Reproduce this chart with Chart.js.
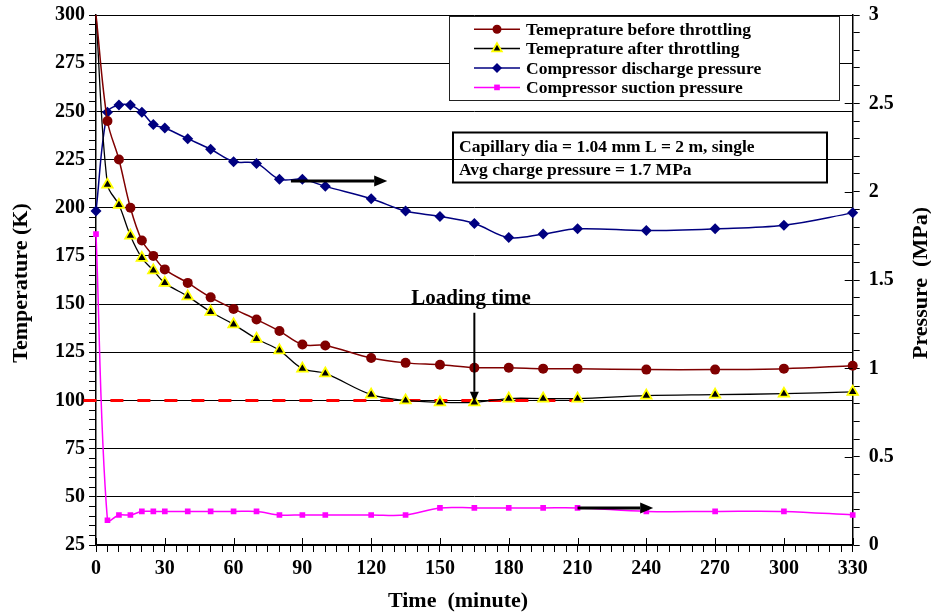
<!DOCTYPE html>
<html>
<head>
<meta charset="utf-8">
<script src="https://cdn.jsdelivr.net/npm/chart.js@4.4.1/dist/chart.umd.min.js"></script>
<style>
  html, body { margin: 0; padding: 0; background: #fff; }
</style>
</head>
<body>
<canvas id="myChart" width="931" height="612"></canvas>
<script>
// time in minutes, same for all series
var A_time = [0, 5, 10, 15, 20, 25, 30, 40, 50, 60, 70, 80, 90, 100, 120, 135, 150, 165, 180, 195, 210, 240, 270, 300, 330];
// temperatures (K), left axis
var A_tempBefore = [300, 245, 225, 200, 183, 175, 168, 161, 153.5, 147.5, 142, 136, 129, 128.5, 122, 119.5, 118.5, 117, 117, 116.5, 116.5, 116, 116, 116.5, 118];
var A_tempAfter = [300, 212, 201.5, 185.5, 174, 167.5, 161, 154, 146, 139.5, 132, 126, 116.5, 114, 103, 100, 99, 99, 101, 101, 101, 102.5, 103, 103.5, 104.5];
// pressures (MPa), right axis
var A_discharge = [1.89, 2.45, 2.49, 2.49, 2.45, 2.38, 2.36, 2.30, 2.24, 2.17, 2.16, 2.07, 2.07, 2.03, 1.96, 1.89, 1.86, 1.82, 1.74, 1.76, 1.79, 1.78, 1.79, 1.81, 1.88];
var A_suction = [1.76, 0.14, 0.17, 0.17, 0.19, 0.19, 0.19, 0.19, 0.19, 0.19, 0.19, 0.17, 0.17, 0.17, 0.17, 0.17, 0.21, 0.21, 0.21, 0.21, 0.21, 0.19, 0.19, 0.19, 0.17];

var S_series = ['Temeprature before throttling', 'Temeprature after throttling', 'Compressor discharge pressure', 'Compressor suction pressure'];
var S_note = ['Capillary dia = 1.04 mm L = 2 m, single', 'Avg charge pressure = 1.7 MPa'];
var S_loading = 'Loading time';
var S_xTitle = 'Time  (minute)';
var S_yTitle = 'Temperature (K)';
var S_y1Title = 'Pressure  (MPa)';

// dashed 100 K line [from min, to min, K]
var A_line100 = [-5.5, 211, 100];
// arrows [from min, to min, MPa] pointing to the pressure axis
var A_arrowDis = [85, 127, 2.06];
var A_arrowSuc = [210, 243, 0.21];
// loading time arrow [min, from K, to K]
var A_arrowLoad = [165, 145.5, 99.3];

var FONT = "'Liberation Serif', 'Times New Roman', serif";

function pts(arr) {
    return A_time.map(function (t, i) { return { x: t, y: arr[i] }; });
}

function drawMarker(ctx, style, x, y, r, fill, stroke, bw) {
    ctx.save();
    ctx.beginPath();
    if (style === 'circle') {
        ctx.arc(x, y, r, 0, Math.PI * 2);
    } else if (style === 'triangle') {
        ctx.moveTo(x, y - r);
        ctx.lineTo(x + r * 0.866, y + r * 0.5);
        ctx.lineTo(x - r * 0.866, y + r * 0.5);
    } else if (style === 'rectRot') {
        ctx.moveTo(x - r, y); ctx.lineTo(x, y - r); ctx.lineTo(x + r, y); ctx.lineTo(x, y + r);
    } else {
        var s = r * Math.SQRT1_2;
        ctx.rect(x - s, y - s, 2 * s, 2 * s);
    }
    ctx.closePath();
    ctx.fillStyle = fill;
    ctx.fill();
    if (bw) {
        ctx.lineWidth = bw;
        ctx.strokeStyle = stroke;
        ctx.stroke();
    }
    ctx.restore();
}

function arrow(ctx, x1, y1, x2, y2, w, head, half) {
    var ang = Math.atan2(y2 - y1, x2 - x1);
    var bx = x2 - Math.cos(ang) * head, by = y2 - Math.sin(ang) * head;
    ctx.save();
    ctx.strokeStyle = '#000';
    ctx.fillStyle = '#000';
    ctx.lineWidth = w;
    ctx.beginPath();
    ctx.moveTo(x1, y1);
    ctx.lineTo(bx, by);
    ctx.stroke();
    ctx.beginPath();
    ctx.moveTo(x2, y2);
    ctx.lineTo(bx - Math.sin(ang) * half, by + Math.cos(ang) * half);
    ctx.lineTo(bx + Math.sin(ang) * half, by - Math.cos(ang) * half);
    ctx.closePath();
    ctx.fill();
    ctx.restore();
}

var extras = {
    id: 'extras',
    beforeDatasetsDraw: function (chart) {
        var ctx = chart.ctx, x = chart.scales.x, y = chart.scales.y;
        ctx.save();
        ctx.strokeStyle = '#ff0000';
        ctx.lineWidth = 3;
        ctx.setLineDash([13, 14]);
        ctx.beginPath();
        ctx.moveTo(x.getPixelForValue(A_line100[0]), y.getPixelForValue(A_line100[2]));
        ctx.lineTo(x.getPixelForValue(A_line100[1]), y.getPixelForValue(A_line100[2]));
        ctx.stroke();
        ctx.restore();
    },
    afterDatasetsDraw: function (chart) {
        var ctx = chart.ctx, x = chart.scales.x, y = chart.scales.y, y1 = chart.scales.y1;
        var area = chart.chartArea;

        // major ticks going inside the plot
        ctx.save();
        ctx.strokeStyle = '#000';
        ctx.lineWidth = 1;
        ctx.beginPath();
        for (var t = 0; t <= 330; t += 30) {
            var px = Math.round(x.getPixelForValue(t)) + 0.5;
            ctx.moveTo(px, area.bottom);
            ctx.lineTo(px, area.bottom - 7);
        }
        for (var p = 0; p <= 3; p += 0.5) {
            var py = Math.round(y1.getPixelForValue(p)) + 0.5;
            ctx.moveTo(area.right, py);
            ctx.lineTo(area.right - 8, py);
        }
        ctx.stroke();
        ctx.restore();

        // arrows
        arrow(ctx, x.getPixelForValue(A_arrowDis[0]), y1.getPixelForValue(A_arrowDis[2]),
            x.getPixelForValue(A_arrowDis[1]), y1.getPixelForValue(A_arrowDis[2]), 3, 13, 5.5);
        arrow(ctx, x.getPixelForValue(A_arrowSuc[0]), y1.getPixelForValue(A_arrowSuc[2]),
            x.getPixelForValue(A_arrowSuc[1]), y1.getPixelForValue(A_arrowSuc[2]), 3, 13, 5.5);
        arrow(ctx, x.getPixelForValue(A_arrowLoad[0]), y.getPixelForValue(A_arrowLoad[1]),
            x.getPixelForValue(A_arrowLoad[0]), y.getPixelForValue(A_arrowLoad[2]), 2, 10, 4.5);

        ctx.save();
        ctx.fillStyle = '#000';
        ctx.font = 'bold 21px ' + FONT;
        ctx.textAlign = 'center';
        ctx.textBaseline = 'alphabetic';
        ctx.fillText(S_loading, 471, 304);

        // legend box
        ctx.fillStyle = '#fff';
        ctx.fillRect(449.5, 16.5, 390, 84);
        ctx.strokeStyle = '#222';
        ctx.lineWidth = 1;
        ctx.strokeRect(449.5, 16.5, 390, 84);
        ctx.font = 'bold 17.5px ' + FONT;
        ctx.textAlign = 'left';
        chart.data.datasets.forEach(function (ds, i) {
            var base = 35 + i * 19.4;
            var cy = base - 5.8;
            ctx.strokeStyle = ds.borderColor;
            ctx.lineWidth = 1.5;
            ctx.beginPath();
            ctx.moveTo(474, cy);
            ctx.lineTo(520, cy);
            ctx.stroke();
            drawMarker(ctx, ds.pointStyle, 497, cy, ds.legendRadius, ds.pointBackgroundColor, ds.pointBorderColor, ds.pointBorderWidth);
            ctx.fillStyle = '#000';
            ctx.fillText(ds.label, 526, base);
        });

        // note box
        ctx.strokeStyle = '#000';
        ctx.lineWidth = 2;
        ctx.strokeRect(453, 132.5, 374, 50);
        ctx.fillStyle = '#000';
        ctx.fillText(S_note[0], 459, 152);
        ctx.fillText(S_note[1], 459, 175);

        // axis titles
        ctx.font = 'bold 22px ' + FONT;
        ctx.textAlign = 'center';
        ctx.fillText(S_xTitle, 458, 607);
        ctx.translate(27, 283);
        ctx.rotate(-Math.PI / 2);
        ctx.fillText(S_yTitle, 0, 0);
        ctx.setTransform(1, 0, 0, 1, 0, 0);
        ctx.translate(927, 283);
        ctx.rotate(-Math.PI / 2);
        ctx.fillText(S_y1Title, 0, 0);
        ctx.restore();
    }
};

var tickFont = { family: FONT, size: 20, weight: 'bold' };

// the plot area is fixed: 96..852.7 x 15..545
function fitV(w) {
    return function (s) { s.width = w; s.paddingTop = 0; s.paddingBottom = 0; };
}

const ctx = document.getElementById('myChart').getContext('2d');
const myChart = new Chart(ctx, {
    type: 'line',
    data: {
        datasets: [{
            label: S_series[0],
            data: pts(A_tempBefore),
            yAxisID: 'y',
            borderColor: '#800000',
            borderWidth: 1.5,
            pointStyle: 'circle',
            pointRadius: function (c) { return c.dataIndex === 0 ? 0 : 5; },
            legendRadius: 4.5,
            pointBackgroundColor: '#800000',
            pointBorderColor: '#800000',
            pointBorderWidth: 0
        }, {
            label: S_series[1],
            data: pts(A_tempAfter),
            yAxisID: 'y',
            borderColor: '#000000',
            borderWidth: 1.3,
            pointStyle: 'triangle',
            pointRadius: function (c) { return c.dataIndex === 0 ? 0 : 6; },
            legendRadius: 5.5,
            pointBackgroundColor: '#000000',
            pointBorderColor: '#ffff00',
            pointBorderWidth: 1.8
        }, {
            label: S_series[2],
            data: pts(A_discharge),
            yAxisID: 'y1',
            borderColor: '#000080',
            borderWidth: 1.5,
            pointStyle: 'rectRot',
            pointRadius: 5.5,
            legendRadius: 5,
            pointBackgroundColor: '#000080',
            pointBorderColor: '#000080',
            pointBorderWidth: 0
        }, {
            label: S_series[3],
            data: pts(A_suction),
            yAxisID: 'y1',
            borderColor: '#ff00ff',
            borderWidth: 1.5,
            pointStyle: 'rect',
            pointRadius: 4,
            legendRadius: 4,
            pointBackgroundColor: '#ff00ff',
            pointBorderColor: '#ff00ff',
            pointBorderWidth: 0
        }]
    },
    options: {
        responsive: false,
        animation: false,
        layout: { padding: { top: 15, left: 0, right: 0, bottom: 0 } },
        elements: { line: { tension: 0.35 } },
        datasets: { line: { clip: { left: 8, top: 0, right: 8, bottom: 8 } } },
        plugins: { legend: { display: false }, tooltip: { enabled: false } },
        scales: {
            x: {
                type: 'linear', position: 'bottom', min: 0, max: 330,
                afterFit: function (s) { s.height = 67; s.paddingLeft = 0; s.paddingRight = 0; },
                ticks: {
                    stepSize: 5, autoSkip: false, maxRotation: 0, padding: 5, color: '#000', font: tickFont,
                    callback: function (v) { return v % 30 === 0 ? String(v) : ''; }
                },
                grid: { drawOnChartArea: false, tickLength: 7, tickColor: '#000', tickWidth: 1 },
                border: { color: '#000', width: 1.5 }
            },
            y: {
                position: 'left', min: 25, max: 300,
                afterFit: fitV(96),
                ticks: {
                    stepSize: 5, autoSkip: false, padding: 4, color: '#000', font: tickFont,
                    callback: function (v) { return v % 25 === 0 ? String(v) : ''; }
                },
                grid: {
                    color: function (c) { return c.tick && c.tick.value % 25 === 0 ? '#000' : 'rgba(0,0,0,0)'; },
                    tickColor: '#000', tickLength: 7, lineWidth: 1
                },
                border: { color: '#000', width: 1.5 }
            },
            y1: {
                position: 'right', min: 0, max: 3,
                afterFit: fitV(78.3),
                ticks: {
                    stepSize: 0.1, autoSkip: false, padding: 9, color: '#000', font: tickFont,
                    callback: function (v) {
                        var k = Math.round(v * 10);
                        return k % 5 === 0 ? String(k / 10) : '';
                    }
                },
                grid: { drawOnChartArea: false, tickLength: 7, tickColor: '#000' },
                border: { color: '#000', width: 1.5 }
            }
        }
    },
    plugins: [extras]
});
</script>
</body>
</html>
